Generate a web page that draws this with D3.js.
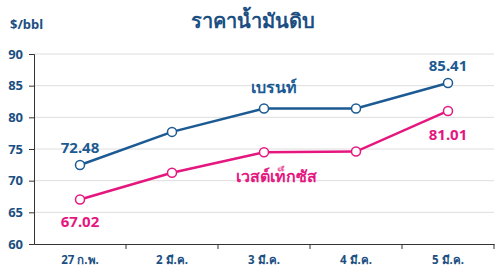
<!DOCTYPE html>
<html><head><meta charset="utf-8">
<script src="https://cdn.jsdelivr.net/npm/d3@7"></script>
<style>body{margin:0;background:#fff}svg{display:block}text{font-family:"Noto Sans","Open Sans",sans-serif}</style>
</head><body><svg id="c" width="504" height="280"></svg>
<script>
const categories = ["27 ก.พ.", "2 มี.ค.", "3 มี.ค.", "4 มี.ค.", "5 มี.ค."];
const brent = [72.48, 77.7, 81.4, 81.4, 85.41];
const wti = [67.02, 71.25, 74.5, 74.6, 81.01];
const yTicks = [60, 65, 70, 75, 80, 85, 90];
const seriesNames = ["เบรนท์", "เวสต์เท็กซัส"];
const title = "ราคาน้ำมันดิบ";
const unit = "$/bbl";

const blue = "#1b5a93", pink = "#e5177f", dark = "#1b4f82";
const svg = d3.select("#c");
const x = d3.scaleBand().domain(categories).range([34, 494]);
const y = d3.scaleLinear().domain([60, 90]).range([244, 54]);

// grid
svg.append("g").selectAll("line").data(yTicks.slice(1)).join("line")
  .attr("x1", 34).attr("x2", 494).attr("y1", d => y(d)).attr("y2", d => y(d))
  .attr("stroke", "#dedede").attr("stroke-width", 1);

// y axis
const ya = svg.append("g").attr("transform", "translate(34,0)")
  .call(d3.axisLeft(y).tickValues(yTicks).tickSize(5).tickPadding(6));
ya.select(".domain").attr("stroke", "#333");
ya.selectAll(".tick line").attr("stroke", "#333");
ya.selectAll("text").attr("fill", dark).attr("font-size", 13).attr("font-weight", "bold");

// x axis
const xa = svg.append("g").attr("transform", "translate(0,244)")
  .call(d3.axisBottom(x).tickSize(0).tickPadding(12));
xa.select(".domain").attr("stroke", "#333");
xa.selectAll("text").attr("fill", dark).attr("font-size", 11.5).attr("font-weight", "bold");
svg.append("g").selectAll("line").data(categories).join("line")
  .attr("x1", d => x(d) + x.bandwidth()).attr("x2", d => x(d) + x.bandwidth())
  .attr("y1", 244).attr("y2", 249).attr("stroke", "#333");

const cx = d => x(d) + x.bandwidth() / 2;
const line = d3.line().x((d, i) => cx(categories[i])).y(d => y(d));

[[brent, blue], [wti, pink]].forEach(([data, col]) => {
  svg.append("path").datum(data).attr("d", line).attr("fill", "none")
    .attr("stroke", col).attr("stroke-width", 2.5);
  svg.append("g").selectAll("circle").data(data).join("circle")
    .attr("cx", (d, i) => cx(categories[i])).attr("cy", d => y(d)).attr("r", 4.5)
    .attr("fill", "#fff").attr("stroke", col).attr("stroke-width", 1.5);
});

// value labels
const lab = (t, xx, yy, col, fs) => svg.append("text").attr("x", xx).attr("y", yy)
  .attr("text-anchor", "middle").attr("fill", col).attr("font-size", fs || 15)
  .attr("font-weight", "bold").text(t);
lab(brent[0].toFixed(2), cx(categories[0]), y(brent[0]) - 12, blue);
lab(wti[0].toFixed(2), cx(categories[0]), y(wti[0]) + 27, pink);
lab(brent[4].toFixed(2), cx(categories[4]), y(brent[4]) - 12, blue);
lab(wti[4].toFixed(2), cx(categories[4]), y(wti[4]) + 29, pink);
lab(seriesNames[0], 274, 93, blue, 16);
lab(seriesNames[1], 276, 182, pink, 16);

svg.append("text").attr("x", 253).attr("y", 28).attr("text-anchor", "middle")
  .attr("fill", dark).attr("font-size", 20).attr("font-weight", "bold").text(title);
svg.append("text").attr("x", 10).attr("y", 29).attr("fill", dark)
  .attr("font-size", 13).attr("font-weight", "bold").text(unit);
</script></body></html>
